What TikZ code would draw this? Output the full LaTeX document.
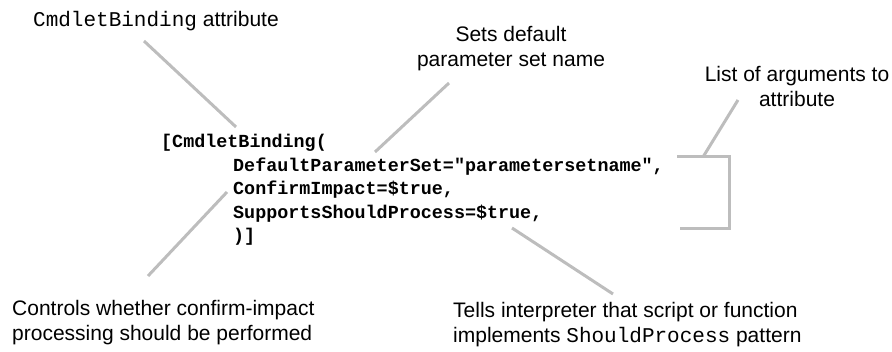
\documentclass[tikz,border=0pt]{standalone}
\usepackage{fontspec}
\setmainfont{Liberation Sans}
\setmonofont{Liberation Mono}
\begin{document}
\begin{tikzpicture}[x=1pt,y=-1pt,
  lbl/.style={inner sep=0pt,font=\fontsize{21}{25}\selectfont},
  code/.style={inner sep=0pt,anchor=base west,font=\fontsize{18.4}{23.5}\selectfont\ttfamily\bfseries},
  conn/.style={draw=lightgray!95!gray,line width=3pt}]
\useasboundingbox (0,0) rectangle (892,352);
\definecolor{lightgray}{RGB}{192,192,192}
% labels (multi-line nodes: base anchor is at the last line)
\node[lbl,anchor=base west] (l1) at (33,26.5) {\texttt{CmdletBinding} attribute};
\node[lbl,anchor=base,align=center] (l2) at (511,66.5) {Sets default\\parameter set name};
\node[lbl,anchor=base,align=center] (l3) at (797,107) {List of arguments to\\attribute};
\node[lbl,anchor=base west,align=left] (l4) at (12,341) {Controls whether confirm-impact\\processing should be performed};
\node[lbl,anchor=base west,align=left] (l5) at (453,343) {Tells interpreter that script or function\\implements \texttt{ShouldProcess} pattern};
% code
\node[code] (c1) at (161,148) {[CmdletBinding(};
\node[code] (c2) at (233,171.5) {DefaultParameterSet="parametersetname",};
\node[code] (c3) at (233,195) {ConfirmImpact=\$true,};
\node[code] (c4) at (233,218.5) {SupportsShouldProcess=\$true,};
\node[code] (c5) at (233,242) {)]};
% connector ends
\coordinate (a1) at (144,41);
\coordinate (b1) at (236,127);
\coordinate (a2) at (449,83);
\coordinate (b2) at (375,152);
\coordinate (a3) at (738,100);
\coordinate (b3) at (703,157);
\coordinate (a4) at (512,228);
\coordinate (b4) at (613,294);
\coordinate (a5) at (227,192);
\coordinate (b5) at (148,276);
\coordinate (k1) at (677,157);
\coordinate (k2) at (729.5,157);
\coordinate (k3) at (729.5,229);
\coordinate (k4) at (680,229);
\draw[conn] (a1) -- (b1);
\draw[conn] (a2) -- (b2);
\draw[conn] (a3) -- (b3);
\draw[conn] (a4) -- (b4);
\draw[conn] (a5) -- (b5);
\draw[conn] (k1) -- (k2) -- (k3) -- (k4);
\end{tikzpicture}
\end{document}
